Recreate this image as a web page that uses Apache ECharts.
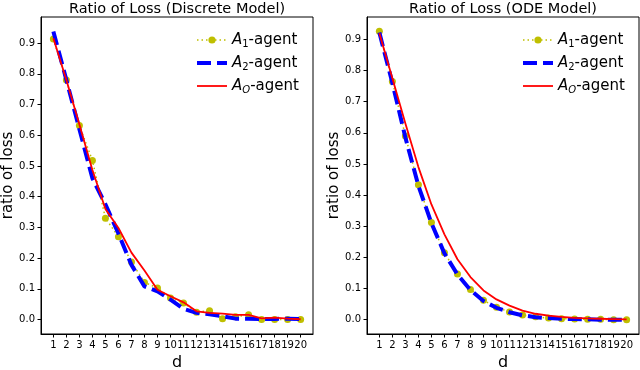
<!DOCTYPE html>
<html>
<head>
<meta charset="utf-8">
<script src="https://cdn.jsdelivr.net/npm/echarts@6/dist/echarts.min.js"></script>
<style>
  html, body { margin: 0; padding: 0; background: #fff; }
  #chart { width: 640px; height: 370px; }
</style>
</head>
<body>
<div id="chart"></div>
<script>
// d = 1..20
var dValues = [1, 2, 3, 4, 5, 6, 7, 8, 9, 10, 11, 12, 13, 14, 15, 16, 17, 18, 19, 20];
var yTicks = [0, 0.1, 0.2, 0.3, 0.4, 0.5, 0.6, 0.7, 0.8, 0.9];
var seriesNames = ['A1-agent', 'A2-agent', 'AO-agent'];

// discrete model
var discA1 = [0.913, 0.78, 0.632, 0.518, 0.33, 0.27, 0.187, 0.121, 0.103, 0.07, 0.054, 0.024, 0.029, 0.003, 0.009, 0.016, 0.0, 0.0, 0.0, 0.0];
var discA2 = [0.938, 0.78, 0.62, 0.46, 0.375, 0.28, 0.178, 0.108, 0.092, 0.065, 0.035, 0.022, 0.017, 0.011, 0.003, 0.003, 0.002, 0.002, 0.003, 0.002];
var discAO = [0.916, 0.78, 0.635, 0.487, 0.36, 0.298, 0.218, 0.16, 0.097, 0.076, 0.056, 0.027, 0.022, 0.019, 0.015, 0.015, 0.004, 0.006, 0.003, 0.001];

// ODE model
var odeA1 = [0.926, 0.765, 0.59, 0.433, 0.312, 0.215, 0.147, 0.097, 0.062, 0.04, 0.025, 0.015, 0.009, 0.005, 0.003, 0.002, 0.001, 0.001, 0.0, 0.0];
var odeA2 = [0.922, 0.76, 0.585, 0.43, 0.31, 0.213, 0.145, 0.095, 0.06, 0.038, 0.024, 0.014, 0.008, 0.005, 0.003, 0.002, 0.001, 0.0, 0.0, 0.0];
var odeAO = [0.92, 0.775, 0.63, 0.49, 0.37, 0.274, 0.194, 0.137, 0.094, 0.065, 0.045, 0.029, 0.019, 0.013, 0.009, 0.006, 0.004, 0.003, 0.002, 0.001];

var FONT = 'DejaVu Sans';
var OLIVE = '#bfbf00', BLUE = '#0000ff', RED = '#ff0000';
var dotType = [1.5, 3], dashType = [14, 6];

function pairs(vals) {
  return dValues.map(function (d, i) { return [d, vals[i]]; });
}

function xAxisFor(gi) {
  return {
    type: 'value', gridIndex: gi, min: 0.05, max: 20.95,
    name: 'd', nameLocation: 'middle', nameGap: 20,
    nameTextStyle: { fontFamily: FONT, fontSize: 16, color: '#000' },
    axisLine: { show: true, onZero: false, lineStyle: { color: '#000', width: 1 } },
    axisTick: { show: true, length: 3.5, customValues: dValues, lineStyle: { color: '#000' } },
    axisLabel: { customValues: dValues, margin: 6, fontFamily: FONT, fontSize: 10, color: '#000' },
    splitLine: { show: false }
  };
}

function yAxisFor(gi, lo, hi) {
  return {
    type: 'value', gridIndex: gi, min: lo, max: hi,
    name: 'ratio of loss', nameLocation: 'middle', nameGap: 24, nameRotate: 90,
    nameTextStyle: { fontFamily: FONT, fontSize: 15, color: '#000' },
    axisLine: { show: true, onZero: false, lineStyle: { color: '#000', width: 1 } },
    axisTick: { show: true, length: 3.5, customValues: yTicks, lineStyle: { color: '#000' } },
    axisLabel: {
      customValues: yTicks, margin: 6, fontFamily: FONT, fontSize: 10, color: '#000',
      formatter: function (v) { return v.toFixed(1); }
    },
    splitLine: { show: false }
  };
}

function seriesFor(gi, a1, a2, ao) {
  return [
    {
      name: seriesNames[0], type: 'line', xAxisIndex: gi, yAxisIndex: gi,
      data: pairs(a1), symbol: 'circle', symbolSize: 7,
      itemStyle: { color: OLIVE },
      lineStyle: { color: OLIVE, width: 1.5, type: dotType },
      z: 2
    },
    {
      name: seriesNames[1], type: 'line', xAxisIndex: gi, yAxisIndex: gi,
      data: pairs(a2), symbol: 'none', showSymbol: false,
      itemStyle: { color: BLUE },
      lineStyle: { color: BLUE, width: 4, type: dashType },
      z: 3
    },
    {
      name: seriesNames[2], type: 'line', xAxisIndex: gi, yAxisIndex: gi,
      data: pairs(ao), symbol: 'none', showSymbol: false,
      itemStyle: { color: RED },
      lineStyle: { color: RED, width: 1.8 },
      z: 4
    }
  ];
}

function legendFor(left) {
  return {
    orient: 'vertical', left: left, top: 26, itemWidth: 30, itemHeight: 9, itemGap: 5,
    selectedMode: false,
    data: [
      { name: seriesNames[0], itemStyle: { color: OLIVE }, lineStyle: { color: OLIVE, width: 1.5, type: dotType } },
      { name: seriesNames[1], itemStyle: { opacity: 0 }, lineStyle: { color: BLUE, width: 4, type: dashType } },
      { name: seriesNames[2], itemStyle: { opacity: 0 }, lineStyle: { color: RED, width: 1.8 } }
    ],
    formatter: function (name) {
      if (name === 'A1-agent') return '{i|A}{s|1}-agent';
      if (name === 'A2-agent') return '{i|A}{s|2}-agent';
      return '{i|A}{si|O}-agent';
    },
    textStyle: {
      fontFamily: FONT, fontSize: 15, color: '#000', lineHeight: 18,
      rich: {
        i: { fontFamily: FONT, fontSize: 15, fontStyle: 'italic', color: '#000', lineHeight: 18 },
        s: { fontFamily: FONT, fontSize: 10, color: '#000', lineHeight: 12, verticalAlign: 'bottom' },
        si: { fontFamily: FONT, fontSize: 10, fontStyle: 'italic', color: '#000', lineHeight: 12, verticalAlign: 'bottom' }
      }
    }
  };
}

var chart = echarts.init(document.getElementById('chart'), null, { renderer: 'canvas' });

var titleStyle = { fontFamily: FONT, fontSize: 14.5, fontWeight: 'normal', color: '#000' };

var option = {
  backgroundColor: '#fff',
  animation: false,
  title: [
    { text: 'Ratio of Loss (Discrete Model)', left: 177, top: 2, padding: 0, textAlign: 'center', textStyle: titleStyle },
    { text: 'Ratio of Loss (ODE Model)', left: 503, top: 2, padding: 0, textAlign: 'center', textStyle: titleStyle }
  ],
  legend: [legendFor(190), legendFor(516)],
  grid: [
    { left: 41, right: 327, top: 17, bottom: 36, show: true, borderColor: '#000', borderWidth: 1, outerBoundsMode: 'none' },
    { left: 367, right: 1, top: 17, bottom: 36, show: true, borderColor: '#000', borderWidth: 1, outerBoundsMode: 'none' }
  ],
  xAxis: [xAxisFor(0), xAxisFor(1)],
  yAxis: [yAxisFor(0, -0.047, 0.985), yAxisFor(1, -0.046, 0.972)],
  series: seriesFor(0, discA1, discA2, discAO).concat(seriesFor(1, odeA1, odeA2, odeAO))
};

chart.setOption(option);
</script>
</body>
</html>
